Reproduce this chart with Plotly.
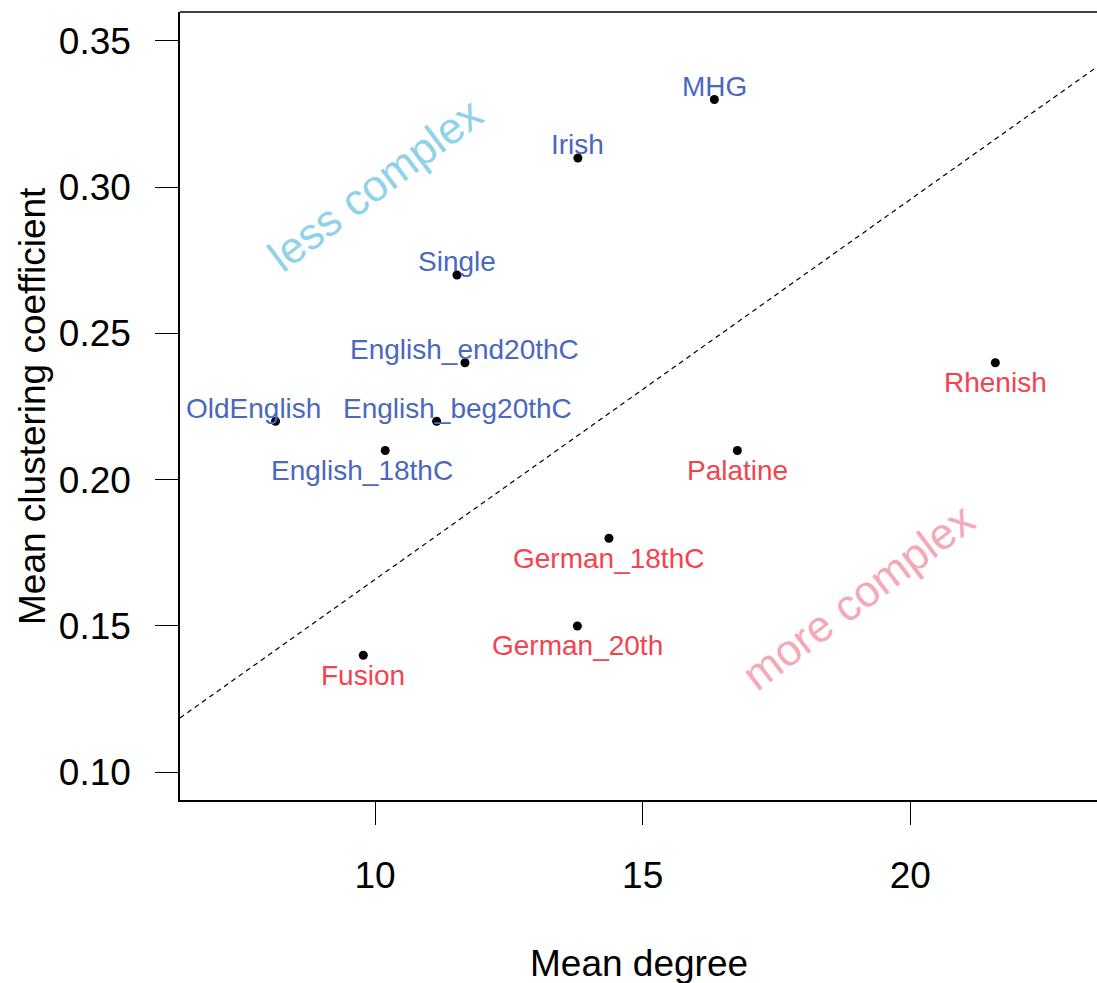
import plotly.graph_objects as go

# ---- data ----
names = ["MHG", "Irish", "Single", "English_end20thC", "English_beg20thC",
         "OldEnglish", "English_18thC", "Rhenish", "Palatine",
         "German_18thC", "German_20th", "Fusion"]
mean_degree = [16.34, 13.79, 11.53, 11.68, 11.15, 8.14, 10.19,
               21.59, 16.77, 14.37, 13.78, 9.78]
mean_clustering = [0.33, 0.31, 0.27, 0.24, 0.22, 0.22, 0.21,
                   0.24, 0.21, 0.18, 0.15, 0.14]
group = ["less", "less", "less", "less", "less", "less", "less",
         "more", "more", "more", "more", "more"]
label_side = ["above", "above", "above", "above", "above", "above", "below",
              "below", "below", "below", "below", "below"]
# horizontal nudges of labels (pixels) used to avoid overlaps
label_nudge = [0, 0, 0, 0, 21, -22, -23, 0, 0, 0, 0, 0]

line_intercept = 0.0360
line_slope = 0.01299

x_ticks = [10, 15, 20]
y_ticks = [0.10, 0.15, 0.20, 0.25, 0.30, 0.35]
x_range = [6.355, 23.49]
y_range = [0.0905, 0.3599]

# ---- styling ----
FONT = "Liberation Sans, Arial, sans-serif"
col_label = {"less": "#4A68BE", "more": "#F2444F"}
col_region = {"less": "#8ED3E8", "more": "#F5A9B8"}

fig = go.Figure()

# dashed separating line
fig.add_trace(go.Scatter(
    x=x_range,
    y=[line_intercept + line_slope * v for v in x_range],
    mode="lines",
    line=dict(color="black", width=1.2, dash="5px,4px"),
    hoverinfo="skip", showlegend=False))

# points
fig.add_trace(go.Scatter(
    x=mean_degree, y=mean_clustering, mode="markers",
    marker=dict(color="black", size=9, symbol="circle"),
    text=names, showlegend=False))

annotations = []
for n, xv, yv, g, side, dx in zip(names, mean_degree, mean_clustering, group,
                                  label_side, label_nudge):
    annotations.append(dict(
        x=xv, y=yv, xref="x", yref="y", text=n, showarrow=False,
        xanchor="center", yanchor="middle", xshift=dx,
        yshift=13 if side == "above" else -20,
        font=dict(family=FONT, size=28, color=col_label[g])))

# region annotations
annotations.append(dict(x=10.0, y=0.3008, xref="x", yref="y", text="less complex",
                        showarrow=False, textangle=-37,
                        font=dict(family=FONT, size=44, color=col_region["less"])))
annotations.append(dict(x=19.03, y=0.160, xref="x", yref="y", text="more complex",
                        showarrow=False, textangle=-37,
                        font=dict(family=FONT, size=44, color=col_region["more"])))

# axis titles
annotations.append(dict(x=0.5, y=0, xref="paper", yref="paper", text="Mean degree",
                        showarrow=False, xanchor="center", yanchor="middle",
                        yshift=-163, font=dict(family=FONT, size=37, color="black")))
annotations.append(dict(x=0, y=0.5, xref="paper", yref="paper",
                        text="Mean clustering coefficient", textangle=-90,
                        showarrow=False, xanchor="center", yanchor="middle",
                        xshift=-148, font=dict(family=FONT, size=37, color="black")))

fig.update_layout(
    width=1097, height=983,
    margin=dict(l=180, r=0, t=12, b=183),
    plot_bgcolor="white", paper_bgcolor="white",
    font=dict(family=FONT, color="black"),
    annotations=annotations,
    shapes=[dict(type="line", xref="paper", yref="paper", x0=0, x1=1, y0=1, y1=1,
                 line=dict(color="black", width=1.5))],
)
fig.update_xaxes(range=x_range, tickvals=x_ticks, ticktext=[str(v) for v in x_ticks],
                 showgrid=False, zeroline=False, showline=True, linecolor="black",
                 linewidth=1.5, ticks="outside", ticklen=23, tickwidth=1.3,
                 tickcolor="black", tickfont=dict(family=FONT, size=37),
                 ticklabelstandoff=19)
fig.update_yaxes(range=y_range, tickvals=y_ticks,
                 ticktext=[f"{v:.2f}" for v in y_ticks],
                 showgrid=False, zeroline=False, showline=True, linecolor="black",
                 linewidth=1.5, ticks="outside", ticklen=23, tickwidth=1.3,
                 tickcolor="black", tickfont=dict(family=FONT, size=37),
                 ticklabelstandoff=17)

fig.write_html(
    "out.html",
    config={"displayModeBar": False},
    post_script="document.body.style.margin='0';document.body.style.overflow='hidden';",
)
